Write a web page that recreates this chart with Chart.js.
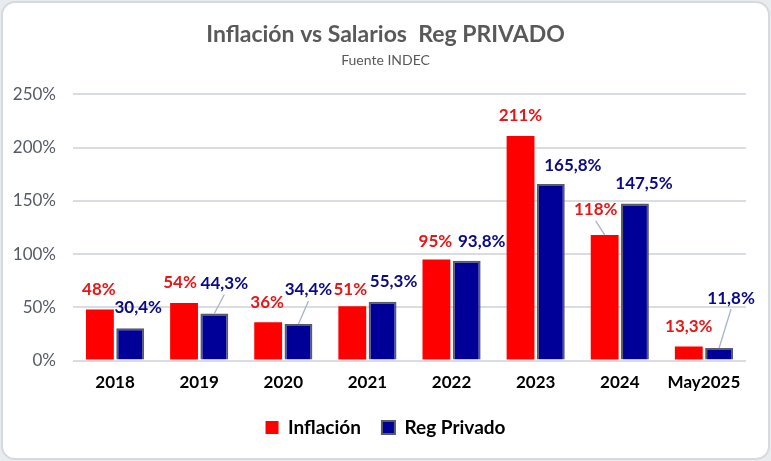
<!DOCTYPE html>
<html>
<head>
<meta charset="utf-8">
<script src="https://cdn.jsdelivr.net/npm/chart.js@4.4.1/dist/chart.umd.min.js"></script>
<style>
  body { margin: 0; background: #e9ecef; }
  #frame {
    position: absolute; left: 1px; top: 1px; width: 765px; height: 455px;
    background: #fff; border: 2px solid #d6dade; border-radius: 14px;
  }
  #c { position: absolute; left: 0; top: 0; }
</style>
</head>
<body>
<div id="frame"></div>
<canvas id="c" width="771" height="461"></canvas>
<script>
const categories = ["2018", "2019", "2020", "2021", "2022", "2023", "2024", "May2025"];
const inflacion = [48, 54, 36, 51, 95, 211, 118, 13.3];
const regPrivado = [30.4, 44.3, 34.4, 55.3, 93.8, 165.8, 147.5, 11.8];
const yTicks = [0, 50, 100, 150, 200, 250];

const FONT = "Lato, 'Open Sans', sans-serif";

// label nudges [dx, dy, leader line?] per dataset, per bar
const nudges = [
  [[-1, 0], [-4, -1], [-1, 0], [-2, 3], [-1, 2], [0, 0], [-9, -5, true], [0, 0]],
  [[8, -1], [10, -10, true], [10, -14, true], [11, 0], [15, 1], [22, 1], [9, 0], [12, -30, true]]
];
const labelColors = ["#e81616", "#0a0a85"];

function fmt(v) {
  return (Number.isInteger(v) ? String(v) : v.toFixed(1).replace(".", ",")) + "%";
}

const barLabels = {
  id: "barLabels",
  afterDatasetsDraw(chart) {
    const ctx = chart.ctx;
    ctx.save();
    ctx.font = "bold 17px " + FONT;
    ctx.textAlign = "center";
    ctx.textBaseline = "middle";
    chart.data.datasets.forEach((ds, i) => {
      chart.getDatasetMeta(i).data.forEach((bar, j) => {
        const n = nudges[i][j];
        const x = bar.x + n[0];
        const y = bar.y - 20 + n[1];
        if (n[2]) {
          ctx.strokeStyle = "#a9b4c2";
          ctx.lineWidth = 1.3;
          ctx.beginPath();
          ctx.moveTo(bar.x, bar.y);
          ctx.lineTo(x, y + 11);
          ctx.stroke();
        }
        ctx.fillStyle = labelColors[i];
        ctx.fillText(fmt(ds.data[j]), x, y);
      });
    });
    ctx.restore();
  }
};

new Chart(document.getElementById("c"), {
  type: "bar",
  data: {
    labels: categories,
    datasets: [
      {
        label: "Inflación",
        data: inflacion,
        backgroundColor: "#ff0000",
        borderWidth: 0,
        categoryPercentage: 0.72,
        barPercentage: 0.92
      },
      {
        label: "Reg Privado",
        data: regPrivado,
        backgroundColor: "#000099",
        borderColor: "#585c66",
        borderWidth: 2,
        borderSkipped: "bottom",
        categoryPercentage: 0.72,
        barPercentage: 0.92
      }
    ]
  },
  options: {
    responsive: false,
    animation: false,
    layout: { padding: { left: 0, right: 0, top: 0, bottom: 14 } },
    plugins: {
      title: {
        display: true,
        text: "Inflación vs Salarios  Reg PRIVADO",
        color: "#595959",
        font: { family: FONT, size: 23, weight: "bold" },
        padding: { top: 21, bottom: 3 }
      },
      subtitle: {
        display: true,
        text: "Fuente INDEC",
        color: "#595959",
        font: { family: FONT, size: 14 },
        padding: { top: 0, bottom: 26 }
      },
      legend: {
        position: "bottom",
        labels: {
          color: "#000",
          font: { family: FONT, size: 19, weight: "bold" },
          boxWidth: 13,
          boxHeight: 13,
          padding: 21
        }
      },
      tooltip: { enabled: false }
    },
    scales: {
      x: {
        grid: { display: false },
        border: { display: false },
        ticks: {
          color: "#000",
          font: { family: FONT, size: 17, weight: "bold" },
          padding: 4
        }
      },
      y: {
        min: 0,
        max: 250,
        afterFit(scale) { scale.width = 73; },
        afterBuildTicks(scale) { scale.ticks = yTicks.map(v => ({ value: v })); },
        grid: { color: "#d9dce0", lineWidth: 2, drawTicks: false },
        border: { display: false },
        ticks: {
          color: "#555b66",
          font: { family: FONT, size: 17 },
          padding: 17,
          callback: v => v + "%"
        }
      },
      // empty right margin so the titles stay centred on the canvas
      yRight: {
        position: "right",
        grid: { display: false },
        border: { display: false },
        ticks: { display: false },
        afterFit(scale) { scale.width = 25; }
      }
    }
  },
  plugins: [barLabels]
});
</script>
</body>
</html>
